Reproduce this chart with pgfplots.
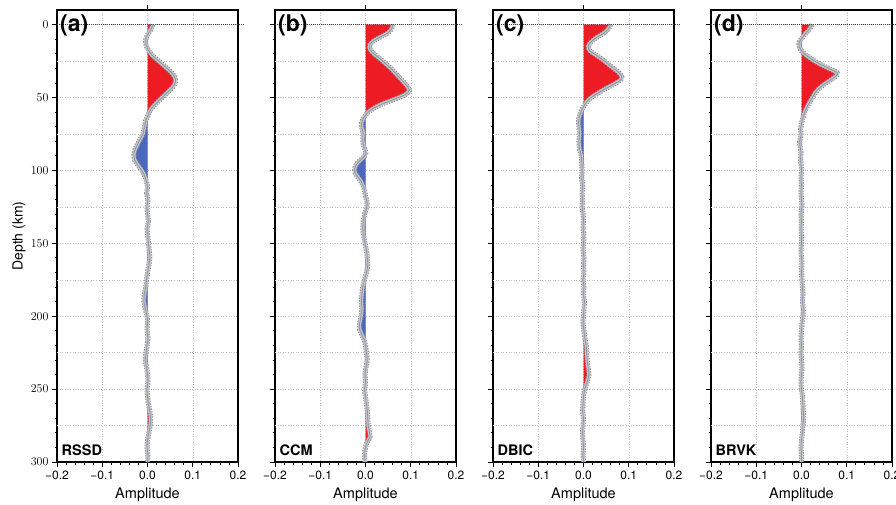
\documentclass[border=0pt]{standalone}
\usepackage{fontspec}
\setmainfont{TeX Gyre Heros}
\usepackage{pgfplots}
\pgfplotsset{compat=1.18}
\usepackage{pgfplotstable}

\definecolor{posred}{HTML}{ED1C24}
\definecolor{negblue}{HTML}{4A68BE}
\definecolor{envdark}{HTML}{8E8E8E}
\definecolor{envlight}{HTML}{C4C4C4}
\definecolor{tracec}{HTML}{8A96B4}

% columns: a = amplitude, d = depth (km)
\pgfplotstableread{
a d
0.012 0
0.008 3
0.002 6
-0.003 9
-0.004 12
-0.002 15
0.003 18
0.010 21
0.021 24
0.032 27
0.043 30
0.053 33
0.060 36
0.062 39
0.058 42
0.049 45
0.039 48
0.029 51
0.019 54
0.010 57
0.004 60
0.000 63
-0.004 66
-0.006 69
-0.008 72
-0.010 75
-0.015 78
-0.020 81
-0.025 84
-0.029 87
-0.030 90
-0.028 93
-0.022 96
-0.015 99
-0.009 102
-0.005 105
-0.002 108
0.000 112
-0.002 116
0.001 120
-0.001 125
0.000 130
0.002 135
-0.001 140
0.001 145
0.002 150
0.004 155
0.005 160
0.003 165
0.000 170
-0.002 175
-0.004 180
-0.007 185
-0.008 190
-0.005 195
-0.001 200
0.000 205
-0.001 210
0.001 215
-0.001 220
-0.003 225
-0.005 230
-0.002 235
0.000 240
0.001 245
-0.001 250
0.000 255
0.002 260
0.005 265
0.007 270
0.006 275
0.003 280
0.000 285
-0.001 290
0.001 295
0.000 300
}\tA

\pgfplotstableread{
a d
0.060 0
0.058 3
0.048 6
0.030 9
0.014 12
0.008 15
0.012 18
0.022 21
0.034 24
0.045 27
0.056 30
0.065 33
0.074 36
0.083 39
0.091 42
0.097 45
0.088 48
0.066 51
0.040 54
0.020 57
0.006 60
0.000 62
-0.006 65
-0.009 68
-0.008 71
-0.005 74
-0.006 77
-0.006 80
-0.004 83
-0.001 86
0.001 89
-0.008 92
-0.018 95
-0.023 98
-0.024 101
-0.018 104
-0.011 107
-0.006 110
-0.002 114
0.000 118
0.004 122
0.002 126
-0.002 130
-0.005 135
-0.006 140
-0.004 145
-0.001 150
0.002 155
0.004 160
0.005 165
0.002 170
-0.002 175
-0.006 180
-0.008 185
-0.009 190
-0.008 195
-0.010 200
-0.013 205
-0.014 208
-0.009 212
-0.003 216
0.000 220
0.002 225
0.004 230
0.001 235
-0.001 240
0.000 245
-0.002 250
0.000 255
0.002 260
0.004 265
0.005 270
0.006 275
0.009 280
0.010 283
0.004 286
0.000 290
-0.002 295
-0.001 300
}\tB

\pgfplotstableread{
a d
0.060 0
0.055 3
0.044 6
0.028 9
0.016 12
0.010 15
0.014 18
0.028 21
0.042 24
0.054 27
0.066 30
0.078 33
0.085 36
0.082 38
0.066 41
0.048 44
0.032 47
0.017 50
0.007 53
0.001 56
-0.003 58
-0.007 61
-0.010 64
-0.011 67
-0.010 70
-0.009 75
-0.010 80
-0.009 85
-0.005 90
-0.004 95
-0.003 100
-0.004 105
-0.002 110
-0.003 115
-0.002 120
-0.003 125
-0.001 130
0.000 135
-0.001 140
0.001 145
0.000 150
-0.001 155
0.001 160
0.000 165
0.001 170
-0.001 175
0.001 180
0.000 185
0.002 190
0.001 195
0.000 200
-0.001 205
0.001 210
0.003 215
0.006 220
0.007 225
0.008 230
0.010 235
0.012 240
0.008 245
0.003 250
0.000 255
-0.001 260
-0.002 265
0.000 270
-0.001 275
-0.002 280
-0.001 285
0.000 290
-0.001 295
0.000 300
}\tC

\pgfplotstableread{
a d
0.024 0
0.018 3
0.009 6
0.002 9
-0.005 12
-0.005 15
0.000 18
0.010 21
0.024 24
0.040 27
0.060 30
0.079 33
0.077 35
0.064 38
0.050 41
0.038 44
0.030 47
0.024 50
0.018 53
0.013 56
0.008 59
0.005 62
0.002 65
0.000 68
-0.002 72
-0.001 76
-0.004 80
-0.003 84
-0.001 88
-0.002 92
-0.001 96
0.000 100
-0.001 105
0.000 110
-0.001 115
0.000 120
0.001 125
-0.001 130
0.000 135
-0.001 140
0.000 145
0.000 150
-0.001 155
0.000 160
0.001 165
0.000 170
0.001 175
0.002 180
0.003 185
0.002 190
0.004 195
0.003 200
0.001 205
0.000 210
-0.001 215
0.000 220
-0.001 225
0.000 230
0.001 235
0.000 240
-0.001 245
0.000 250
0.002 255
0.003 260
0.004 265
0.005 270
0.003 275
0.002 280
0.000 285
-0.001 290
0.000 295
0.000 300
}\tD

\pgfplotsset{
  rfpanel/.style={
    scale only axis, width=181pt, height=452pt, anchor=south west,
    xmin=-0.2, xmax=0.2, ymin=-10, ymax=300, y dir=reverse,
    xtick={-0.2,-0.1,0,0.1,0.2},
    xticklabels={−0.2,−0.1,0.0,0.1,0.2},
    minor x tick num=4,
    ytick={0,50,...,300},
    minor y tick num=4,
    extra y ticks={25,75,125,175,225,275},
    extra y tick labels={},
    extra y tick style={major tick length=0pt, grid=major},
    xmajorgrids, ymajorgrids,
    grid style={black!25, dash pattern=on 0.8pt off 1.8pt, line width=0.5pt},
    tick align=outside, tick pos=left,
    major tick length=5pt, minor tick length=2.5pt,
    every tick/.style={black, line width=0.8pt},
    axis line style={line width=1.6pt},
    ticklabel style={font=\fontsize{12}{12}\selectfont},
    xlabel={Amplitude},
    xlabel style={font=\fontsize{14.5}{14.5}\selectfont,
      at={(axis description cs:0.5,-0.073)}, anchor=center},
    clip=false,
  },
  posfill/.style={fill=posred, draw=none, smooth},
  negfill/.style={fill=negblue, draw=none, smooth},
  envout/.style={draw=envdark, line width=5pt, dash pattern=on 1.5pt off 1.1pt,
    line cap=butt, line join=round, smooth, mark=none},
  envin/.style={draw=envlight, line width=3.4pt, line cap=butt, line join=round,
    smooth, mark=none},
  traceline/.style={draw=tracec, line width=0.8pt, smooth, mark=none},
}

\newcommand{\rfcurve}[3]{%
  \begin{scope}
    \clip (axis cs:0,-10) rectangle (axis cs:0.25,300);
    \addplot[posfill] table[x=a,y=d]{#1} -- (axis cs:0,300) -- (axis cs:0,0) -- cycle;
  \end{scope}
  \begin{scope}
    \clip (axis cs:-0.25,-10) rectangle (axis cs:0,300);
    \addplot[negfill] table[x=a,y=d]{#1} -- (axis cs:0,300) -- (axis cs:0,0) -- cycle;
  \end{scope}
  \addplot[envout] table[x=a,y=d]{#1};
  \addplot[envin] table[x=a,y=d]{#1};
  \addplot[traceline] table[x=a,y=d]{#1};
  \draw[black!75, dash pattern=on 0.8pt off 1.2pt, line width=0.6pt]
    (axis cs:-0.2,0) -- (axis cs:0.215,0);
  \draw[line width=0.8pt] (axis cs:0,-10) -- ([yshift=5pt]axis cs:0,-10);
  \node[anchor=north west, inner sep=0pt, font=\bfseries\fontsize{23}{23}\selectfont]
    at (rel axis cs:0,1) [xshift=3pt, yshift=-5pt] {#2};
  \node[anchor=base west, inner sep=0pt, font=\bfseries\fontsize{14.5}{14.5}\selectfont]
    at (rel axis cs:0,0) [xshift=4.5pt, yshift=7pt] {#3};
}

\begin{document}
\begin{tikzpicture}
\useasboundingbox (0,0) rectangle (896pt,504pt);

\begin{axis}[rfpanel, at={(57pt,42pt)},
  ylabel={Depth (km)},
  ylabel style={font=\fontsize{14}{14}\selectfont,
    at={(axis description cs:-0.21,0.5)}, anchor=center}]
  \rfcurve{\tA}{(a)}{RSSD}
\end{axis}

\begin{axis}[rfpanel, at={(275pt,42pt)}, yticklabels={}]
  \rfcurve{\tB}{(b)}{CCM}
\end{axis}

\begin{axis}[rfpanel, at={(493pt,42pt)}, yticklabels={}]
  \rfcurve{\tC}{(c)}{DBIC}
\end{axis}

\begin{axis}[rfpanel, at={(711pt,42pt)}, yticklabels={}]
  \rfcurve{\tD}{(d)}{BRVK}
\end{axis}
\end{tikzpicture}
\end{document}
